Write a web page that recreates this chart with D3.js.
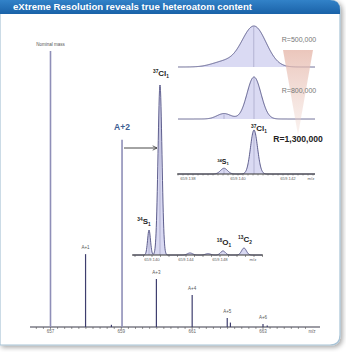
<!DOCTYPE html>
<html><head><meta charset="utf-8">
<script src="https://cdn.jsdelivr.net/npm/d3@7"></script>
<style>body{margin:0;background:#fff;}svg{display:block;font-family:"Liberation Sans",Arial,sans-serif;}</style>
</head><body><svg id="c" width="346" height="352"></svg>
<script>
// ---------- data ----------
const titleText = "eXtreme Resolution reveals true heteroatom content";
// main spectrum (centroid sticks)
const mainMz  = [657.00, 657.99, 658.72, 659.02, 659.99, 661.00, 661.99, 662.08, 663.00, 663.12];
const mainInt = [100, 26.4, 0.8, 67.8, 17.4, 11.6, 3.3, 1.6, 1.1, 0.5];
const peakLabels   = ["Nominal mass", "A+1", "A+2", "A+3", "A+4", "A+5", "A+6"];
const peakLabelMz  = [657.00, 657.99, 659.02, 659.99, 661.00, 661.99, 663.00];
const peakLabelInt = [100, 26.4, 67.8, 17.4, 11.6, 3.3, 1.1];
const mainTickLabels = ["657", "659", "661", "663"];
const mainTickMz = [657, 659, 661, 663];

// zoomed inset of A+2 (profile peaks)
const insetMz    = [659.13965, 659.14094, 659.14447, 659.14659, 659.14835, 659.15082];
const insetInt   = [14.7, 100, 1.2, 0.8, 2.4, 4.1];
const insetSigma = [0.00017, 0.00023, 0.00030, 0.00030, 0.00028, 0.00028];
const insetLabels = [["34","S","1"], ["37","Cl","1"], null, null, ["18","O","1"], ["13","C","2"]];
const insetTickLabels = ["659.140", "659.144", "659.148"];
const insetTickMz = [659.140, 659.144, 659.148];

// resolution comparison panels (34S1 and 37Cl1 components)
const resLabels = ["R=500,000", "R=800,000", "R=1,300,000"];
const resSigma  = [0.00048, 0.00028, 0.00014];
const compMz  = [659.13944, 659.14064];
const compRel = [0.13, 1.0];
const resTickLabels = ["659.138", "659.140", "659.142"];
const resTickMz = [659.138, 659.140, 659.142];

// ---------- drawing ----------
const svg = d3.select("#c");
const defs = svg.append("defs");
const f = defs.append("filter").attr("id","sh").attr("x","-5%").attr("y","-5%").attr("width","115%").attr("height","115%");
f.append("feGaussianBlur").attr("in","SourceAlpha").attr("stdDeviation",2.5);
f.append("feOffset").attr("dx",2).attr("dy",2).attr("result","b");
f.append("feComponentTransfer").append("feFuncA").attr("type","linear").attr("slope",0.35);
const fm = f.append("feMerge"); fm.append("feMergeNode"); fm.append("feMergeNode").attr("in","SourceGraphic");
const hg = defs.append("linearGradient").attr("id","hg").attr("x1",0).attr("y1",0).attr("x2",0).attr("y2",1);
hg.append("stop").attr("offset","0").attr("stop-color","#3282c8");
hg.append("stop").attr("offset","1").attr("stop-color","#1a62a8");
const tg = defs.append("linearGradient").attr("id","tg").attr("x1",0).attr("y1",0).attr("x2",0).attr("y2",1);
tg.append("stop").attr("offset","0").attr("stop-color","#e6b8ab").attr("stop-opacity",0.8);
tg.append("stop").attr("offset","1").attr("stop-color","#eed3cb").attr("stop-opacity",0.3);

// frame
const W = 340, H = 345, r = 10;
svg.append("path").attr("filter","url(#sh)")
  .attr("d", `M0,0 H${W-r} Q${W},0 ${W},${r} V${H-r} Q${W},${H} ${W-r},${H} H0 Z`)
  .attr("fill","#fff").attr("stroke","#a8c3d6").attr("stroke-width",1.2);
svg.append("path")
  .attr("d", `M0,0 H${W-r} Q${W},0 ${W},${r} V14 H0 Z`).attr("fill","url(#hg)");
svg.append("text").attr("x",13).attr("y",10.3).attr("fill","#fff").attr("font-weight","bold")
  .attr("font-size",8.3).attr("textLength",239).attr("lengthAdjust","spacingAndGlyphs").text(titleText);

// ---------- main spectrum ----------
const x = d3.scaleLinear().domain([657, 663]).range([50.5, 263]);
const y = d3.scaleLinear().domain([0, 100]).range([327, 51]);
const base = y(0);
svg.append("line").attr("x1",30).attr("x2",320).attr("y1",base).attr("y2",base).attr("stroke","#3a3a4a").attr("stroke-width",1.1);
const minor = d3.range(656.6, 664.4, 0.2);
svg.append("g").selectAll("line").data(minor).join("line")
  .attr("x1",d=>x(d)).attr("x2",d=>x(d)).attr("y1",base).attr("y2",base+2)
  .attr("stroke","#555").attr("stroke-width",0.6);
svg.append("g").selectAll("text").data(mainTickMz).join("text")
  .attr("x",d=>x(d)).attr("y",base+6).attr("text-anchor","middle").attr("font-size",4.5).attr("fill","#666")
  .text((d,i)=>mainTickLabels[i]);
svg.append("text").attr("x",312).attr("y",base+6).attr("text-anchor","middle").attr("font-size",4.5).attr("fill","#666").text("m/z");

svg.append("g").selectAll("line").data(mainMz).join("line")
  .attr("x1",d=>x(d)).attr("x2",d=>x(d)).attr("y1",base).attr("y2",(d,i)=>y(mainInt[i]))
  .attr("stroke",(d,i)=> (mainInt[i] > 50 ? "#8f8fb8" : "#3e3e6e"))
  .attr("stroke-width",(d,i)=> (mainInt[i] > 50 ? 1.6 : 1.2));

svg.append("g").selectAll("text").data(peakLabels).join("text")
  .attr("x",(d,i)=>x(peakLabelMz[i])).attr("y",(d,i)=> y(peakLabelInt[i]) - (d === "A+2" ? 10 : 5))
  .attr("text-anchor","middle")
  .attr("font-size",d=> d === "A+2" ? 8.5 : 4.5)
  .attr("font-weight",d=> d === "A+2" ? "bold" : "normal")
  .attr("fill",d=> d === "A+2" ? "#3c5e92" : "#555")
  .text(d=>d);

// arrow
defs.append("marker").attr("id","ar").attr("viewBox","0 0 10 10").attr("refX",9).attr("refY",5)
  .attr("markerWidth",6).attr("markerHeight",6).attr("orient","auto")
  .append("path").attr("d","M1,1 L9,5 L1,9").attr("fill","none").attr("stroke","#333").attr("stroke-width",1.4);
svg.append("line").attr("x1",124).attr("x2",157).attr("y1",148).attr("y2",148)
  .attr("stroke","#333").attr("stroke-width",0.9).attr("marker-end","url(#ar)");

// ---------- inset ----------
const xi = d3.scaleLinear().domain([659.140, 659.148]).range([152, 220]);
const yi = d3.scaleLinear().domain([0, 100]).range([255, 85]);
const ib = yi(0);
function profile(mzs, ints, sigmas, xs, px0, px1) {
  const pts = [];
  for (let px = px0; px <= px1; px += 0.25) {
    const m = xs.invert(px);
    let v = 0;
    mzs.forEach((c,k)=>{ v += ints[k]*Math.exp(-0.5*((m-c)/sigmas[k])**2); });
    pts.push([px, v]);
  }
  return pts;
}
const ipts = profile(insetMz, insetInt, insetSigma, xi, 133, 262);
svg.append("path").datum(ipts)
  .attr("d", d3.area().x(d=>d[0]).y0(ib).y1(d=>yi(d[1])))
  .attr("fill","#d9d9f2").attr("stroke","none");
svg.append("path").datum(ipts)
  .attr("d", d3.line().x(d=>d[0]).y(d=>yi(d[1])))
  .attr("fill","none").attr("stroke","#4d4d80").attr("stroke-width",0.9);
svg.append("g").selectAll("line").data([0,1]).join("line")
  .attr("x1",k=>xi(insetMz[k])).attr("x2",k=>xi(insetMz[k])).attr("y1",ib).attr("y2",k=>yi(insetInt[k])+3)
  .attr("stroke","#8a8ab0").attr("stroke-width",0.5);
svg.append("line").attr("x1",132).attr("x2",263).attr("y1",ib).attr("y2",ib).attr("stroke","#333").attr("stroke-width",1);
svg.append("g").selectAll("line").data(d3.range(659.138, 659.1531, 0.001)).join("line")
  .attr("x1",d=>xi(d)).attr("x2",d=>xi(d)).attr("y1",ib).attr("y2",ib+2).attr("stroke","#555").attr("stroke-width",0.6);
svg.append("g").selectAll("text").data(insetTickMz).join("text")
  .attr("x",d=>xi(d)).attr("y",ib+6).attr("text-anchor","middle").attr("font-size",4.3).attr("fill","#666")
  .text((d,i)=>insetTickLabels[i]);
svg.append("text").attr("x",253).attr("y",ib+6).attr("text-anchor","middle").attr("font-size",4.3).attr("fill","#666").text("m/z");

function isoLabel(sel, px, py, parts, big) {
  const t = sel.append("text").attr("x",px).attr("y",py).attr("text-anchor","middle")
    .attr("font-weight","bold").attr("fill","#222");
  t.append("tspan").attr("font-size",big*0.6).attr("dy",-big*0.35).text(parts[0]);
  t.append("tspan").attr("font-size",big).attr("dy",big*0.35).text(parts[1]);
  t.append("tspan").attr("font-size",big*0.6).attr("dy",big*0.2).text(parts[2]);
}
insetLabels.forEach((lab,k)=>{
  if (!lab) return;
  const off = k === 1 ? 9 : 6;
  isoLabel(svg, xi(insetMz[k]) + (k===0 ? -5 : 1), yi(insetInt[k]) - off, lab, 8);
});

// ---------- resolution panels ----------
const xr = d3.scaleLinear().domain([659.138, 659.142]).range([188, 288]);
const panelBase = [67, 119, 174];
const panelHeight = [41, 42, 44];
resSigma.forEach((s,p)=>{
  const raw = profile(compMz, compRel, [s,s], xr, 178, 315);
  const mx = d3.max(raw, d=>d[1]);
  const yp = d3.scaleLinear().domain([0, mx]).range([panelBase[p], panelBase[p]-panelHeight[p]]);
  svg.append("path").datum(raw).attr("d", d3.area().x(d=>d[0]).y0(panelBase[p]).y1(d=>yp(d[1])))
    .attr("fill","#dadaf3");
  const sticks = p === 0 ? [1] : [0,1];
  sticks.forEach(k=>{
    const px = p === 0 ? raw[d3.maxIndex(raw, d=>d[1])][0] : xr(compMz[k]);
    let v = 0; compMz.forEach((c,j)=>{ v += compRel[j]*Math.exp(-0.5*((xr.invert(px)-c)/s)**2); });
    svg.append("line").attr("x1",px).attr("x2",px).attr("y1",panelBase[p]).attr("y2",yp(v)+1)
      .attr("stroke","#9a9ac0").attr("stroke-width",0.6);
  });
  svg.append("path").datum(raw).attr("d", d3.line().x(d=>d[0]).y(d=>yp(d[1])))
    .attr("fill","none").attr("stroke","#4d4d80").attr("stroke-width",0.9);
});
// panel 3 axis
const b3 = panelBase[2];
svg.append("line").attr("x1",177).attr("x2",315).attr("y1",b3).attr("y2",b3).attr("stroke","#333").attr("stroke-width",1);
svg.append("g").selectAll("line").data(d3.range(659.1376, 659.1431, 0.0002)).join("line")
  .attr("x1",d=>xr(d)).attr("x2",d=>xr(d)).attr("y1",b3).attr("y2",b3+1.6).attr("stroke","#555").attr("stroke-width",0.5);
svg.append("g").selectAll("text").data(resTickMz).join("text")
  .attr("x",d=>xr(d)).attr("y",b3+6).attr("text-anchor","middle").attr("font-size",4.3).attr("fill","#666")
  .text((d,i)=>resTickLabels[i]);
svg.append("text").attr("x",311).attr("y",b3+6).attr("text-anchor","middle").attr("font-size",4.3).attr("fill","#666").text("m/z");
isoLabel(svg, xr(compMz[1]) + 5, 131, ["37","Cl","1"], 8);
isoLabel(svg, xr(compMz[0]) - 1, 164, ["34","S","1"], 7);

// pink triangle + resolution labels
svg.append("path").attr("d","M283,50 L313,50 L298,135 Z").attr("fill","url(#tg)");
svg.append("text").attr("x",299).attr("y",42).attr("text-anchor","middle").attr("font-size",7).attr("fill","#777").text(resLabels[0]);
svg.append("text").attr("x",299).attr("y",93).attr("text-anchor","middle").attr("font-size",7).attr("fill","#777").text(resLabels[1]);
svg.append("text").attr("x",298).attr("y",142).attr("text-anchor","middle").attr("font-size",8.6)
  .attr("font-weight","bold").attr("fill","#222").text(resLabels[2]);
</script></body></html>
